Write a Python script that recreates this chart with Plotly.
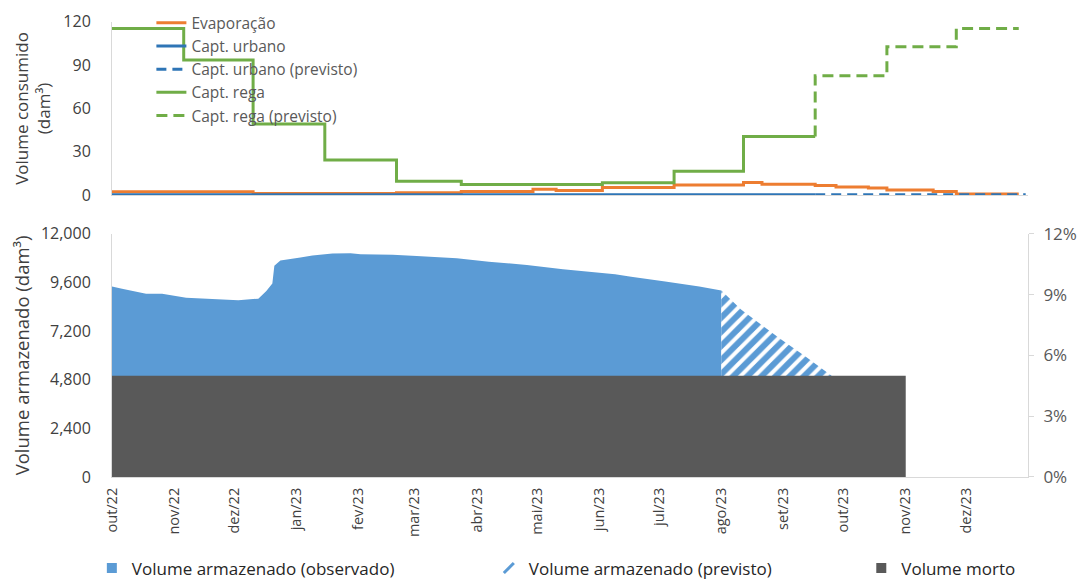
import plotly.graph_objects as go

# ---------------- data ----------------
# Top chart: consumption (dam3)
evap_dates = ["2022-10-01", "2022-12-01", "2023-02-01", "2023-03-01", "2023-04-01", "2023-04-11",
              "2023-05-01", "2023-06-01", "2023-07-01", "2023-07-09", "2023-08-01", "2023-08-10",
              "2023-08-24", "2023-09-01", "2023-09-21", "2023-10-01", "2023-10-28"]
evap_vals = [2.3, 1.0, 1.5, 2.5, 4.0, 3.1, 5.2, 7.0, 8.7, 7.5, 6.6, 5.6, 4.9, 3.5, 2.5, 0.8, 0.8]

urb_obs_dates = ["2022-10-01", "2023-08-01"]
urb_obs_vals = [0.2, 0.2]
urb_prev_dates = ["2023-08-01", "2023-10-31"]
urb_prev_vals = [0.2, 0.2]

rega_obs_dates = ["2022-10-01", "2022-11-01", "2022-12-01", "2023-01-01", "2023-02-01", "2023-03-01",
                  "2023-04-01", "2023-05-01", "2023-06-01", "2023-07-01", "2023-08-01"]
rega_obs_vals = [115.4, 93.5, 49.2, 24.2, 9.5, 7.3, 7.3, 8.5, 16.5, 40.5, 40.5]
rega_prev_dates = ["2023-08-01", "2023-08-01", "2023-09-01", "2023-10-01", "2023-10-28"]
rega_prev_vals = [40.5, 82.6, 102.7, 115.4, 115.4]

# Bottom chart: stored volume (dam3)
vol_obs_dates = ["2022-10-01", "2022-10-06", "2022-10-18", "2022-10-26", "2022-11-07", "2022-11-20",
                 "2022-12-03", "2022-12-13", "2022-12-17", "2022-12-20", "2022-12-21", "2022-12-24",
                 "2023-01-03", "2023-01-09", "2023-01-19", "2023-01-28", "2023-02-02", "2023-02-18",
                 "2023-03-02", "2023-03-22", "2023-04-07", "2023-04-26", "2023-05-14", "2023-06-09",
                 "2023-06-17", "2023-07-04", "2023-07-21", "2023-08-01"]
vol_obs_vals = [9400, 9290, 9050, 9040, 8850, 8780, 8730, 8800, 9180, 9550, 10430, 10680,
                10840, 10930, 11030, 11050, 11000, 10970, 10910, 10800, 10630, 10470, 10260, 10010,
                9890, 9650, 9400, 9200]

vol_prev_dates = ["2023-08-01", "2023-08-11", "2023-08-30", "2023-09-12", "2023-09-25"]
vol_prev_vals = [9200, 8250, 6850, 5950, 5000]

morto_dates = ["2022-10-01", "2023-11-01"]
morto_vals = [5000, 5000]

capacity = 100000  # dam3 (right axis in %)

month_ticks = ["2022-10-01", "2022-11-01", "2022-12-01", "2023-01-01", "2023-02-01", "2023-03-01",
               "2023-04-01", "2023-05-01", "2023-06-01", "2023-07-01", "2023-08-01", "2023-09-01",
               "2023-10-01", "2023-11-01", "2023-12-01"]
month_labels = ["out/22", "nov/22", "dez/22", "jan/23", "fev/23", "mar/23", "abr/23", "mai/23",
                "jun/23", "jul/23", "ago/23", "set/23", "out/23", "nov/23", "dez/23"]

# ---------------- styles ----------------
FONT = "Open Sans"
ORANGE = "#ED7D31"
BLUE_LINE = "#2E75B6"
GREEN = "#70AD47"
BLUE_AREA = "#5B9BD5"
DARK = "#595959"
AXIS = "#D9D9D9"

fig = go.Figure()

# top chart
fig.add_trace(go.Scatter(x=evap_dates, y=evap_vals, name="Evaporação", mode="lines",
                         line=dict(color=ORANGE, width=3, shape="hv"), xaxis="x", yaxis="y"))
fig.add_trace(go.Scatter(x=urb_obs_dates, y=urb_obs_vals, name="Capt. urbano", mode="lines",
                         line=dict(color=BLUE_LINE, width=3, shape="hv"), xaxis="x", yaxis="y"))
fig.add_trace(go.Scatter(x=urb_prev_dates, y=urb_prev_vals, name="Capt. urbano (previsto)", mode="lines",
                         line=dict(color=BLUE_LINE, width=3, shape="hv", dash="10px,6px"),
                         xaxis="x", yaxis="y"))
fig.add_trace(go.Scatter(x=rega_obs_dates, y=rega_obs_vals, name="Capt. rega", mode="lines",
                         line=dict(color=GREEN, width=3, shape="hv"), xaxis="x", yaxis="y"))
fig.add_trace(go.Scatter(x=rega_prev_dates, y=rega_prev_vals, name="Capt. rega (previsto)", mode="lines",
                         line=dict(color=GREEN, width=3, shape="hv", dash="11px,6px"),
                         xaxis="x", yaxis="y"))

# bottom chart
fig.add_trace(go.Scatter(x=vol_obs_dates, y=vol_obs_vals, name="Volume armazenado (observado)",
                         mode="none", fill="tozeroy", fillcolor=BLUE_AREA, showlegend=False,
                         xaxis="x2", yaxis="y2"))
fig.add_trace(go.Scatter(x=vol_prev_dates, y=vol_prev_vals, name="Volume armazenado (previsto)",
                         mode="none", fill="tozeroy", fillcolor="white", showlegend=False,
                         fillpattern=dict(shape="/", fgcolor=BLUE_AREA, bgcolor="white",
                                          fgopacity=1, size=10, solidity=0.6),
                         xaxis="x2", yaxis="y2"))
fig.add_trace(go.Scatter(x=morto_dates, y=morto_vals, name="Volume morto",
                         mode="none", fill="tozeroy", fillcolor=DARK, showlegend=False,
                         xaxis="x2", yaxis="y2"))
# invisible trace for right axis (% of capacity)
fig.add_trace(go.Scatter(x=vol_obs_dates, y=[v / capacity for v in vol_obs_vals], mode="lines",
                         line=dict(width=0), opacity=0, showlegend=False, hoverinfo="skip",
                         xaxis="x2", yaxis="y3"))

# legend entries for the bottom chart (Excel-like small square / hatch icons)
fig.add_trace(go.Scatter(x=[None], y=[None], mode="markers", name="Volume armazenado (observado)",
                         marker=dict(symbol="square", size=10, color=BLUE_AREA),
                         xaxis="x2", yaxis="y2", legend="legend2"))
fig.add_trace(go.Scatter(x=[None], y=[None], mode="markers", name="Volume armazenado (previsto)",
                         marker=dict(symbol="line-ne", size=10, color=BLUE_AREA,
                                     line=dict(color=BLUE_AREA, width=3)),
                         xaxis="x2", yaxis="y2", legend="legend2"))
fig.add_trace(go.Scatter(x=[None], y=[None], mode="markers", name="Volume morto",
                         marker=dict(symbol="square", size=10, color=DARK),
                         xaxis="x2", yaxis="y2", legend="legend3"))

tickfont = dict(family=FONT, size=16, color="#404040")
legfont_bottom = dict(family=FONT, size=17, color="#262626")

# the page body adds an 8px offset, so the figure is 8px smaller than the window
fig.update_layout(
    width=1077, height=571,
    margin=dict(l=104, r=57, t=12, b=102, autoexpand=False),
    paper_bgcolor="white", plot_bgcolor="white",
    font=dict(family=FONT, color="#404040"),
    xaxis=dict(domain=[0, 1], anchor="y", type="date", range=["2022-10-01", "2023-11-01"],
               showticklabels=False, showgrid=False, zeroline=False, showline=True,
               linecolor=AXIS, ticks="", automargin=False),
    yaxis=dict(domain=[0.617, 0.996], anchor="x", range=[0, 120], tickvals=[0, 30, 60, 90, 120],
               showgrid=False, zeroline=False, showline=True, linecolor=AXIS,
               tickfont=tickfont, ticklabelstandoff=17, automargin=False,
               title=dict(text="Volume consumido<br>(dam³)", font=dict(family=FONT, size=17, color="#404040"),
                          standoff=8)),
    xaxis2=dict(domain=[0, 1], anchor="y2", type="date", range=["2022-10-01", "2024-01-01"],
                tickvals=month_ticks, ticktext=month_labels, tickangle=-90,
                tickfont=dict(family=FONT, size=14.5, color="#404040"),
                showgrid=False, zeroline=False, showline=True, linecolor=AXIS, ticks="",
                ticklabelstandoff=4, automargin=False),
    yaxis2=dict(domain=[0, 0.532], anchor="x2", range=[0, 12000], dtick=2400, tickformat=",",
                showgrid=False, zeroline=False, showline=True, linecolor=AXIS,
                tickfont=tickfont, ticklabelstandoff=17, automargin=False,
                title=dict(text="Volume armazenado (dam³)", font=dict(family=FONT, size=18.5, color="#404040"),
                           standoff=6)),
    yaxis3=dict(overlaying="y2", anchor="x2", side="right", range=[0, 0.12], dtick=0.03,
                tickformat=".0%", showgrid=False, zeroline=False, showline=True, linecolor=AXIS,
                ticks="outside", ticklen=5, tickcolor=AXIS, automargin=False,
                ticklabelstandoff=6,
                tickfont=dict(family=FONT, size=17, color="#595959")),
    legend=dict(x=0.043, y=1.03, xanchor="left", yanchor="top", bgcolor="rgba(0,0,0,0)",
                font=dict(family=FONT, size=15.5, color="#595959"), tracegroupgap=0,
                traceorder="normal"),
    legend2=dict(orientation="h", x=-0.022, y=-0.2, xanchor="left", yanchor="middle",
                 entrywidth=352, bgcolor="rgba(0,0,0,0)", font=legfont_bottom),
    legend3=dict(orientation="h", x=0.818, y=-0.2, xanchor="left", yanchor="middle",
                 bgcolor="rgba(0,0,0,0)", font=legfont_bottom),
)

fig.write_html("out.html")
